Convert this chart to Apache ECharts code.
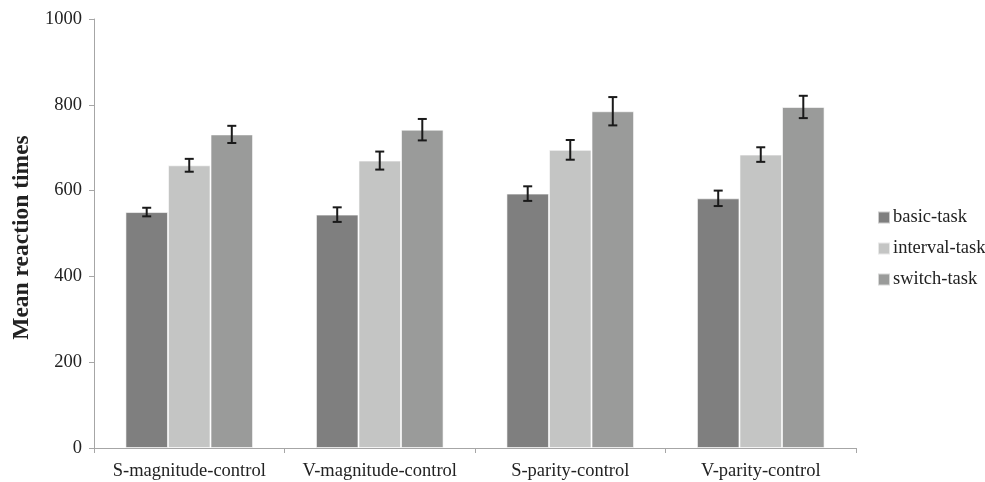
<!DOCTYPE html>
<html>
<head>
<meta charset="utf-8">
<script src="https://cdn.jsdelivr.net/npm/echarts@6/dist/echarts.min.js"></script>
<style>
  html, body { margin: 0; padding: 0; background: #fff; }
  #chart { width: 985px; height: 482px; }
</style>
</head>
<body>
<div id="chart"></div>
<script>
// Conditions on the x axis
const categories = ['S-magnitude-control', 'V-magnitude-control', 'S-parity-control', 'V-parity-control'];

// Mean reaction times per task
const basicTask    = [550, 544, 593, 582];
const intervalTask = [659, 670, 695, 684];
const switchTask   = [731, 742, 785, 795];

// Error bar half-widths
const basicErr    = [10, 17, 17, 18];
const intervalErr = [15, 21, 23, 17];
const switchErr   = [20, 25, 33, 26];

const yTicks = { min: 0, max: 1000, interval: 200 };

const seriesNames = ['basic-task', 'interval-task', 'switch-task'];
const seriesColors = ['#7f7f7f', '#c4c5c4', '#9a9b9a'];
const seriesValues = [basicTask, intervalTask, switchTask];
const seriesErrors = [basicErr, intervalErr, switchErr];

const font = '"Liberation Serif", "DejaVu Serif", serif';

const chart = echarts.init(document.getElementById('chart'));

const barSeries = seriesNames.map((name, i) => ({
  name: name,
  type: 'bar',
  data: seriesValues[i],
  barGap: '0%',
  barCategoryGap: '33%',
  itemStyle: { color: seriesColors[i], borderColor: 'rgba(255,255,255,0.6)', borderWidth: 1 },
  z: 2
}));

// Error bars drawn over the bars, offset to each bar's slot within its group
const errSeries = seriesNames.map((name, i) => ({
  type: 'custom',
  name: name + '-err',
  z: 5,
  silent: true,
  data: seriesValues[i].map((v, j) => [j, v - seriesErrors[i][j], v + seriesErrors[i][j]]),
  renderItem: function (params, api) {
    const cat = api.value(0);
    const lo = api.coord([cat, api.value(1)]);
    const hi = api.coord([cat, api.value(2)]);
    const bandW = api.size([1, 0])[0];
    const barW = bandW * (1 - 0.33) / 3;
    const x = lo[0] - 1.5 * barW + (i + 0.5) * barW;
    const cap = 4.5;
    const style = { stroke: '#1a1a1a', lineWidth: 2 };
    return {
      type: 'group',
      children: [
        { type: 'line', shape: { x1: x, y1: lo[1], x2: x, y2: hi[1] }, style: style },
        { type: 'line', shape: { x1: x - cap, y1: lo[1], x2: x + cap, y2: lo[1] }, style: style },
        { type: 'line', shape: { x1: x - cap, y1: hi[1], x2: x + cap, y2: hi[1] }, style: style }
      ]
    };
  }
}));

chart.setOption({
  animation: false,
  backgroundColor: '#fff',
  grid: { left: 94, right: 129, top: 19, bottom: 34, containLabel: false, outerBoundsMode: 'none' },
  legend: {
    data: seriesNames,
    orient: 'vertical',
    left: 877,
    top: 208,
    padding: 0,
    itemWidth: 12,
    itemHeight: 12,
    itemGap: 12,
    icon: 'rect',
    textStyle: { fontFamily: font, fontSize: 18.5, lineHeight: 19, color: '#222', padding: [0, 0, 0, -2] }
  },
  xAxis: {
    type: 'category',
    data: categories,
    axisLine: { lineStyle: { color: '#a6a6a6', width: 1 } },
    axisTick: { show: true, length: 5, lineStyle: { color: '#a6a6a6' } },
    axisLabel: { fontFamily: font, fontSize: 18.5, color: '#222', margin: 14, interval: 0 },
    splitLine: { show: false }
  },
  yAxis: {
    type: 'value',
    min: yTicks.min,
    max: yTicks.max,
    interval: yTicks.interval,
    name: 'Mean reaction times',
    nameLocation: 'middle',
    nameGap: 59,
    nameRotate: 90,
    nameTextStyle: { fontFamily: font, fontSize: 23.5, fontWeight: 'bold', color: '#222', padding: [0, 8, 0, 0] },
    axisLine: { show: true, lineStyle: { color: '#a6a6a6', width: 1 } },
    axisTick: { show: true, length: 5, lineStyle: { color: '#a6a6a6' } },
    axisLabel: { fontFamily: font, fontSize: 18.5, color: '#222', margin: 12, formatter: v => String(v) },
    splitLine: { show: false }
  },
  series: barSeries.concat(errSeries)
});
</script>
</body>
</html>
